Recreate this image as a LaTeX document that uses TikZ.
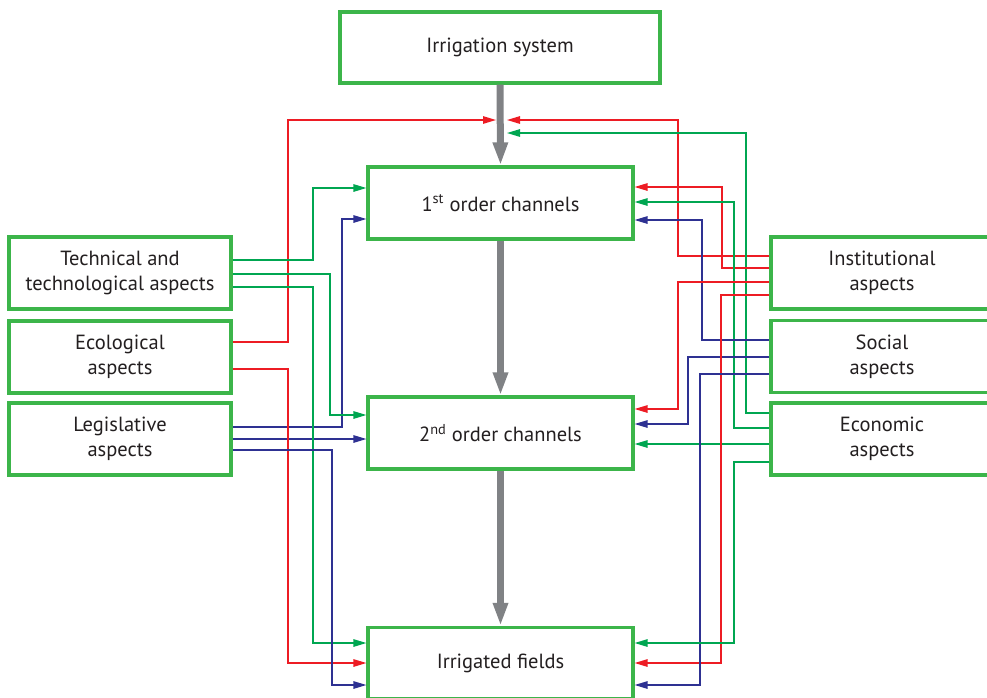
\documentclass[tikz,border=0pt]{standalone}
\usepackage{fontspec}
\setmainfont{PT Sans}
\usetikzlibrary{arrows.meta}
\definecolor{boxgreen}{HTML}{3CB54A}
\definecolor{lred}{HTML}{ED1C24}
\definecolor{lgreen}{HTML}{00A651}
\definecolor{lblue}{HTML}{2E3192}
\definecolor{flowgray}{HTML}{808285}
\definecolor{ink}{HTML}{231F20}
\begin{document}
\begin{tikzpicture}[x=1pt,y=-1pt,
  box/.style={draw=boxgreen, line width=3.2pt, fill=white, text=ink, align=center,
    font=\fontsize{20.5}{25}\selectfont, inner sep=0pt},
  aspect/.style={box, minimum width=222pt, minimum height=72pt},
  channel/.style={box, minimum width=265pt, minimum height=72pt},
  link/.style={line width=1.3pt, -{Triangle[length=13pt,width=7.5pt]}},
  flow/.style={draw=flowgray, line width=7pt, -{Triangle[length=23pt,width=14pt]}},
]
\useasboundingbox (0,0) rectangle (987,697);

% main chain
\node[box, minimum width=320pt, minimum height=71pt] (sys) at (500,47.5) {Irrigation system};
\node[channel] (ch1) at (500.5,203) {1\textsuperscript{st} order channels};
\node[channel] (ch2) at (500.5,433) {2\textsuperscript{nd} order channels};
\node[channel, minimum height=71pt] (fields) at (500.5,663) {Irrigated fields};

% aspects, left
\node[aspect] (tech) at (120,273) {Technical and\\technological aspects};
\node[aspect] (eco)  at (120,357) {Ecological\\aspects};
\node[aspect] (leg)  at (120,439) {Legislative\\aspects};

% aspects, right
\node[aspect] (inst) at (882,273) {Institutional\\aspects};
\node[aspect] (soc)  at (882,356.5) {Social\\aspects};
\node[aspect] (econ) at (882,439) {Economic\\aspects};

% flow between the levels
\draw[flow] (sys.south) -- (ch1.north);
\draw[flow] (ch1.south) -- (ch2.north);
\draw[flow] (ch2.south) -- (fields.north);

% entry points on the first flow arrow
\coordinate (inL)  at (496,120);
\coordinate (inR1) at (507,120);
\coordinate (inR2) at (507,133);

% links from the left aspects
\draw[link, lred]   (eco.east |- 0,342) -| (288,120) -- (inL);
\draw[link, lgreen] (tech.east |- 0,260) -| (313,188) -- (ch1.west |- 0,188);
\draw[link, lblue]  (leg.east |- 0,427) -| (342,219) -- (ch1.west |- 0,219);
\draw[link, lgreen] (tech.east |- 0,274) -| (330,415) -- (ch2.west |- 0,415);
\draw[link, lblue]  (leg.east |- 0,439) -- (ch2.west |- 0,439);
\draw[link, lgreen] (tech.east |- 0,287) -| (313,643) -- (fields.west |- 0,643);
\draw[link, lred]   (eco.east |- 0,369) -| (288,663) -- (fields.west |- 0,663);
\draw[link, lblue]  (leg.east |- 0,450) -| (332,685) -- (fields.west |- 0,685);

% links from the right aspects
\draw[link, lred]   (inst.west |- 0,256) -| (678,120) -- (inR1);
\draw[link, lgreen] (econ.west |- 0,413) -| (746,133) -- (inR2);
\draw[link, lred]   (inst.west |- 0,268) -| (722,187) -- (ch1.east |- 0,187);
\draw[link, lgreen] (econ.west |- 0,428) -| (734,202) -- (ch1.east |- 0,202);
\draw[link, lblue]  (soc.west |- 0,340) -| (702,220) -- (ch1.east |- 0,220);
\draw[link, lred]   (inst.west |- 0,282) -| (678,409) -- (ch2.east |- 0,409);
\draw[link, lblue]  (soc.west |- 0,357) -| (688,424) -- (ch2.east |- 0,424);
\draw[link, lgreen] (econ.west |- 0,444) -- (ch2.east |- 0,444);
\draw[link, lred]   (inst.west |- 0,295) -| (721,663) -- (fields.east |- 0,663);
\draw[link, lblue]  (soc.west |- 0,374) -| (700,685) -- (fields.east |- 0,685);
\draw[link, lgreen] (econ.west |- 0,462) -| (734,643) -- (fields.east |- 0,643);
\end{tikzpicture}
\end{document}
